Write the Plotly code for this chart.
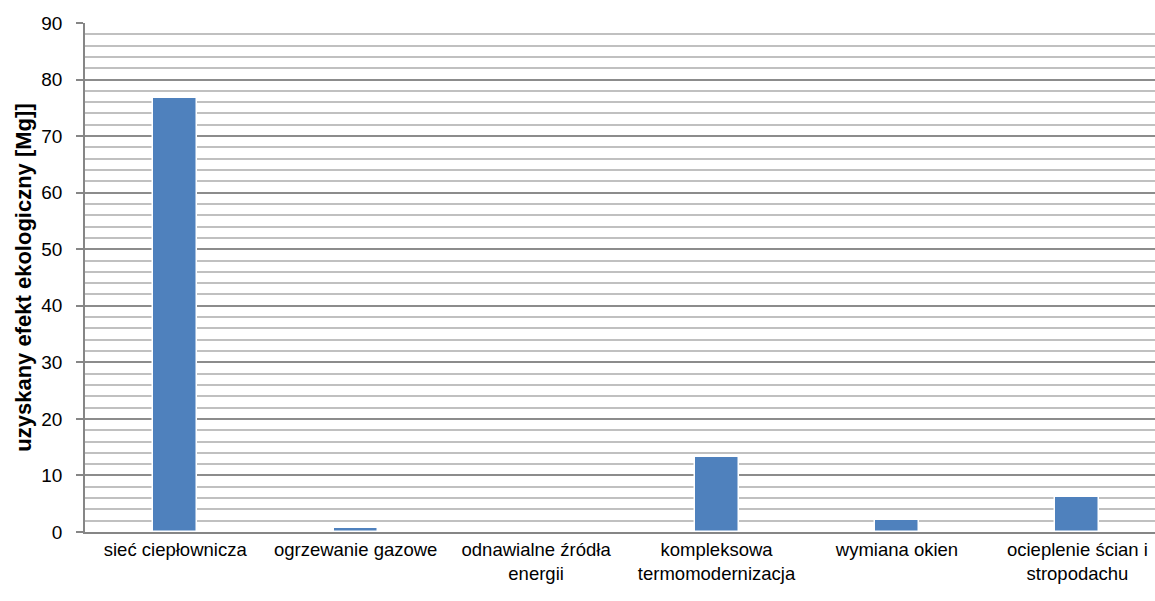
import plotly.graph_objects as go

categories = ["sieć ciepłownicza", "ogrzewanie gazowe", "odnawialne źródła<br>energii",
              "kompleksowa<br>termomodernizacja", "wymiana okien", "ocieplenie ścian i<br>stropodachu"]
values = [76.7, 0.65, 0, 13.3, 2.1, 6.25]
y_ticks = [0, 10, 20, 30, 40, 50, 60, 70, 80, 90]

fig = go.Figure(go.Bar(
    x=categories, y=values, width=0.244,
    marker=dict(color="#4f81bd", line=dict(color="white", width=1.5)),
))

font = "Liberation Sans, Arial, sans-serif"
fig.update_layout(
    width=1155, height=601,
    margin=dict(l=85, r=0, t=23, b=69, autoexpand=False),
    plot_bgcolor="white", paper_bgcolor="white",
    showlegend=False,
    font=dict(family=font, size=19, color="black"),
    bargap=0,
)
fig.update_xaxes(
    automargin=False,
    showline=True, linecolor="#868686", linewidth=1.5,
    tickfont=dict(size=18.5), ticks="", showgrid=False,
    range=[-0.5, 5.43],
)
fig.update_yaxes(
    automargin=False,
    range=[0, 90], tickvals=y_ticks, showgrid=True, gridcolor="#8c8c8c", gridwidth=1.5,
    minor=dict(dtick=2, showgrid=True, gridcolor="#c0c0c0", gridwidth=1.5),
    showline=True, linecolor="#868686", linewidth=1.5,
    ticks="outside", ticklen=7, tickcolor="#868686", tickwidth=1.5,
    ticklabelstandoff=10,
    tickfont=dict(size=19), zeroline=False,
    title=dict(text="<b>uzyskany efekt ekologiczny [Mg]]</b>", font=dict(size=22), standoff=4),
)
fig.write_html("out.html", config={"displayModeBar": False},
               post_script="document.body.style.margin='0';document.body.style.overflow='hidden';")
